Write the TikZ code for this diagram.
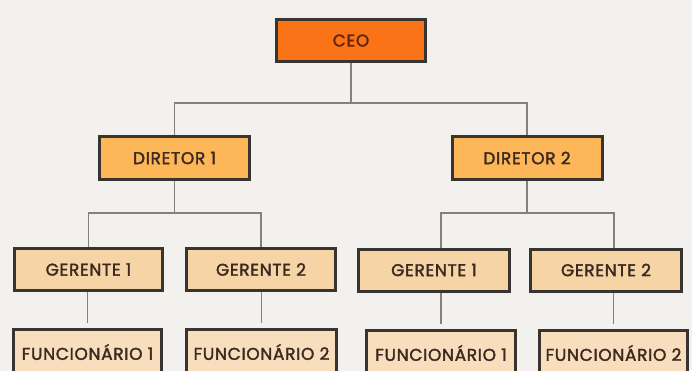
\documentclass[tikz,border=0pt]{standalone}
\usepackage{fontspec}
\setmainfont{Poppins}[UprightFeatures={FakeBold=2},LetterSpace=4]
\definecolor{bgc}{HTML}{F3F1EE}
\definecolor{ceofill}{HTML}{FA7417}
\definecolor{dirfill}{HTML}{FDB658}
\definecolor{gerfill}{HTML}{F7D4A5}
\definecolor{funfill}{HTML}{F8DEBC}
\definecolor{bordc}{HTML}{3A3430}
\definecolor{linec}{HTML}{85807C}
\definecolor{txtc}{HTML}{3B2A20}
\definecolor{ceotxt}{HTML}{5E2610}
\begin{document}
\begin{tikzpicture}[x=1pt,y=-1pt,
  box/.style={draw=bordc,line width=3pt,text=txtc,font=\fontsize{17}{19}\selectfont,inner sep=0pt},
  ceobox/.style={box,fill=ceofill,text=ceotxt,minimum width=149pt,minimum height=42pt},
  dirbox/.style={box,fill=dirfill,minimum width=150pt,minimum height=43pt},
  gerbox/.style={box,fill=gerfill,minimum height=42pt},
  funbox/.style={box,fill=funfill,minimum height=45pt},
  conn/.style={draw=linec,line width=1.4pt}]
\useasboundingbox (0,0) rectangle (692,371);
\clip (0,0) rectangle (692,371);
\fill[bgc] (0,0) rectangle (692,371);
\node[ceobox] (ceo) at (351,40.5) {CEO};
\node[dirbox] (d1) at (174.5,158) {DIRETOR 1};
\node[dirbox] (d2) at (527,158) {DIRETOR 2};
\node[gerbox,minimum width=148pt] (gl1) at (88.5,269.5) {GERENTE 1};
\node[gerbox,minimum width=149pt] (gl2) at (261,269.5) {GERENTE 2};
\node[gerbox,minimum width=151pt] (gr1) at (434,270) {GERENTE 1};
\node[gerbox,minimum width=151pt] (gr2) at (606,270) {GERENTE 2};
\node[funbox,minimum width=148pt] (fl1) at (87.5,352) {FUNCIONÁRIO 1};
\node[funbox,minimum width=150pt] (fl2) at (261.5,352) {FUNCIONÁRIO 2};
\node[funbox,minimum width=149pt] (fr1) at (441,353) {FUNCIONÁRIO 1};
\node[funbox,minimum width=148pt] (fr2) at (613.5,353) {FUNCIONÁRIO 2};
\coordinate (j0) at (351,103);
\coordinate (j1) at (174.5,213);
\coordinate (j2) at (527,213);
\draw[conn] (ceo.south) -- (j0);
\draw[conn] (d1.north) |- (j0) -| (d2.north);
\draw[conn] (d1.south) -- (j1);
\draw[conn] (gl1.north) |- (j1) -| (gl2.north);
\draw[conn] (d2.south) -- (j2);
\draw[conn] ([xshift=7pt]gr1.north) |- (j2) -| ([xshift=8pt]gr2.north);
\draw[conn,shorten <=5pt] (fl1.north) -- (fl1.north |- gl1.south);
\draw[conn,shorten <=5pt] (fl2.north) -- (fl2.north |- gl2.south);
\draw[conn,shorten <=5pt] (fr1.north) -- (fr1.north |- gr1.south);
\draw[conn,shorten <=5pt] (fr2.north) -- (fr2.north |- gr2.south);
\end{tikzpicture}
\end{document}
